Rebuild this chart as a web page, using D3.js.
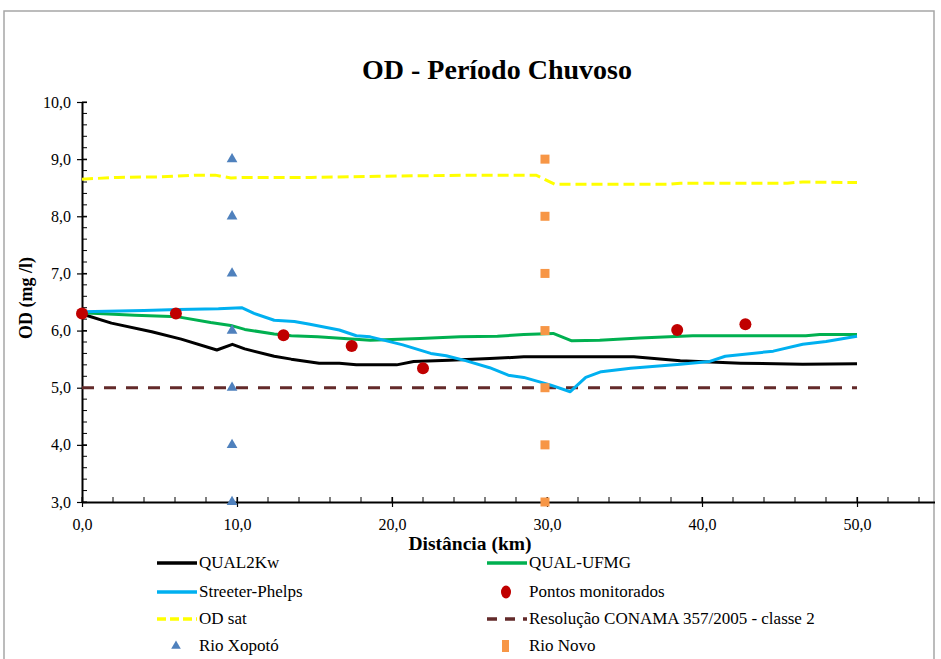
<!DOCTYPE html>
<html>
<head>
<meta charset="utf-8">
<script src="https://cdn.jsdelivr.net/npm/d3@7"></script>
<style>
html,body{margin:0;padding:0;background:#fff;}
svg{display:block;}
</style>
</head>
<body>
<svg id="chart" width="941" height="659" font-family="Liberation Serif"></svg>
<script>
// ---------- data ----------
const titleText = "OD - Período Chuvoso";
const xLabel = "Distância (km)";
const yLabel = "OD (mg /l)";
const xTicks = [0, 10, 20, 30, 40, 50];
const yTicks = [3, 4, 5, 6, 7, 8, 9, 10];

const qual2kwX = [0, 1.9, 4.5, 6.4, 8.7, 9.7, 10.5, 12.4, 13.5, 15.3, 16.6, 17.7, 20.3, 21.4, 23.7, 26.3, 28.5, 30.2, 35.6, 38.6, 42.5, 46.5, 50];
const qual2kwY = [6.29, 6.13, 5.98, 5.85, 5.66, 5.76, 5.68, 5.55, 5.50, 5.43, 5.43, 5.40, 5.40, 5.46, 5.48, 5.51, 5.54, 5.54, 5.54, 5.47, 5.43, 5.41, 5.42];

const ufmgX = [0, 3.4, 6.2, 8.3, 9.6, 10.5, 12.4, 13.5, 15.2, 16.9, 18.6, 21.8, 24.4, 26.8, 28.5, 30.4, 31.6, 33.4, 36.0, 39.4, 46.7, 47.6, 50];
const ufmgY = [6.31, 6.27, 6.24, 6.14, 6.09, 6.02, 5.94, 5.91, 5.89, 5.86, 5.83, 5.86, 5.89, 5.90, 5.93, 5.95, 5.82, 5.83, 5.87, 5.91, 5.91, 5.93, 5.93];

const spX = [0, 4.0, 6.2, 8.8, 10.3, 11.1, 12.4, 13.7, 14.7, 16.6, 17.7, 18.6, 20.7, 22.5, 23.5, 24.8, 26.3, 27.5, 28.5, 30.2, 31.5, 32.5, 33.5, 35.4, 38.6, 40.5, 41.5, 44.6, 46.5, 48.0, 50];
const spY = [6.33, 6.35, 6.37, 6.38, 6.40, 6.30, 6.18, 6.16, 6.11, 6.01, 5.91, 5.89, 5.75, 5.60, 5.56, 5.47, 5.35, 5.22, 5.18, 5.05, 4.93, 5.18, 5.28, 5.34, 5.41, 5.46, 5.55, 5.64, 5.76, 5.81, 5.90];

const odSatX = [0, 2.3, 5.1, 7.3, 8.6, 9.6, 10.5, 14.8, 19.1, 25.3, 29.3, 30.5, 37.9, 38.6, 45.5, 46.5, 50];
const odSatY = [8.65, 8.68, 8.69, 8.72, 8.72, 8.67, 8.68, 8.68, 8.70, 8.72, 8.72, 8.56, 8.56, 8.58, 8.58, 8.60, 8.59];

const conamaX = [0, 50];
const conamaY = [5.0, 5.0];

const pontosX = [0, 6.06, 13.0, 17.4, 22.0, 38.4, 42.8];
const pontosY = [6.30, 6.30, 5.92, 5.73, 5.34, 6.01, 6.11];

const xopotoX = [9.68, 9.68, 9.68, 9.68, 9.68, 9.68, 9.68];
const xopotoY = [3, 4, 5, 6, 7, 8, 9];

const novoX = [29.87, 29.87, 29.87, 29.87, 29.87, 29.87, 29.87];
const novoY = [3, 4, 5, 6, 7, 8, 9];

const legendNames = ["QUAL2Kw", "QUAL-UFMG", "Streeter-Phelps", "Pontos monitorados", "OD sat", "Resolução CONAMA 357/2005 - classe 2", "Rio Xopotó", "Rio Novo"];

// ---------- drawing ----------
const FONT = "Liberation Serif";
const svg = d3.select("#chart");
const fmt = v => v.toFixed(1).replace(".", ",");

// outer frame
svg.append("rect").attr("x", 4).attr("y", 11).attr("width", 930).attr("height", 700)
  .attr("fill", "none").attr("stroke", "#a6a6a6").attr("stroke-width", 1.5);

const x = d3.scaleLinear().domain([0, 55]).range([82, 934.5]);
const y = d3.scaleLinear().domain([3, 10]).range([502, 102]);

// title
svg.append("text").attr("x", 497).attr("y", 79).attr("text-anchor", "middle")
  .attr("font-family", FONT).attr("font-size", 28).attr("font-weight", "bold").text(titleText);

// minor ticks
const gMinor = svg.append("g").attr("stroke", "#000").attr("stroke-width", 1);
d3.range(3, 10.001, 0.2).forEach(v => {
  gMinor.append("line").attr("x1", 82).attr("x2", 87).attr("y1", y(v)).attr("y2", y(v));
});
d3.range(0, 55.001, 2).forEach(v => {
  gMinor.append("line").attr("x1", x(v)).attr("x2", x(v)).attr("y1", 502).attr("y2", 497);
});

// axes
const yAxis = d3.axisLeft(y).tickValues(yTicks).tickFormat(fmt).tickSizeInner(5).tickSizeOuter(0).tickPadding(8);
const gy = svg.append("g").attr("transform", "translate(82,0)").call(yAxis);
gy.attr("font-family", FONT).attr("font-size", 16);
gy.select(".domain").attr("stroke", "#000").attr("stroke-width", 2);
gy.selectAll(".tick line").attr("x1", 5).attr("x2", -5).attr("stroke", "#000").attr("stroke-width", 1.2);
gy.selectAll(".tick text").attr("font-family", FONT).attr("font-size", 16).attr("fill", "#000").attr("x", -11);

const xAxis = d3.axisBottom(x).tickValues(xTicks).tickFormat(fmt).tickSizeInner(5).tickSizeOuter(0).tickPadding(12);
const gx = svg.append("g").attr("transform", "translate(0,502)").call(xAxis);
gx.attr("font-family", FONT).attr("font-size", 16);
gx.select(".domain").attr("stroke", "#000").attr("stroke-width", 2);
gx.selectAll(".tick line").attr("y1", -5).attr("y2", 5).attr("stroke", "#000").attr("stroke-width", 1.2);
gx.selectAll(".tick text").attr("font-family", FONT).attr("font-size", 16).attr("fill", "#000");

// axis labels
svg.append("text").attr("x", 470).attr("y", 550).attr("text-anchor", "middle").attr("font-family", FONT)
  .attr("font-size", 19.5).attr("font-weight", "bold").text(xLabel);
svg.append("text").attr("transform", "translate(32,298) rotate(-90)").attr("text-anchor", "middle").attr("font-family", FONT)
  .attr("font-size", 18).attr("font-weight", "bold").text(yLabel);

// lines
const zip = (xs, ys) => xs.map((v, i) => [v, ys[i]]);
const line = d3.line().x(d => x(d[0])).y(d => y(d[1]));

svg.append("path").datum(zip(conamaX, conamaY)).attr("d", line)
  .attr("fill", "none").attr("stroke", "#632a2a").attr("stroke-width", 3).attr("stroke-dasharray", "12,10");
svg.append("path").datum(zip(odSatX, odSatY)).attr("d", line)
  .attr("fill", "none").attr("stroke", "#ffff00").attr("stroke-width", 3).attr("stroke-dasharray", "11,5");
svg.append("path").datum(zip(qual2kwX, qual2kwY)).attr("d", line)
  .attr("fill", "none").attr("stroke", "#000").attr("stroke-width", 3).attr("stroke-linejoin", "round");
svg.append("path").datum(zip(ufmgX, ufmgY)).attr("d", line)
  .attr("fill", "none").attr("stroke", "#00b050").attr("stroke-width", 3).attr("stroke-linejoin", "round");
svg.append("path").datum(zip(spX, spY)).attr("d", line)
  .attr("fill", "none").attr("stroke", "#00b0f0").attr("stroke-width", 3).attr("stroke-linejoin", "round");

// markers
const tri = d3.symbol().type(d3.symbolTriangle).size(50);
svg.append("g").selectAll("path").data(zip(xopotoX, xopotoY)).join("path")
  .attr("d", tri).attr("transform", d => `translate(${x(d[0])},${y(d[1])})`).attr("fill", "#4f81bd");
svg.append("g").selectAll("rect").data(zip(novoX, novoY)).join("rect")
  .attr("x", d => x(d[0]) - 4.5).attr("y", d => y(d[1]) - 4.5).attr("width", 9).attr("height", 9).attr("fill", "#f79646");
svg.append("g").selectAll("circle").data(zip(pontosX, pontosY)).join("circle")
  .attr("cx", d => x(d[0])).attr("cy", d => y(d[1])).attr("r", 6).attr("fill", "#c00000");

// legend
const legItems = [
  {name: legendNames[0], type: "line", color: "#000"},
  {name: legendNames[1], type: "line", color: "#00b050"},
  {name: legendNames[2], type: "line", color: "#00b0f0"},
  {name: legendNames[3], type: "circle", color: "#c00000"},
  {name: legendNames[4], type: "line", color: "#ffff00", dash: "9,4"},
  {name: legendNames[5], type: "line", color: "#632a2a", dash: "10,8"},
  {name: legendNames[6], type: "tri", color: "#4f81bd"},
  {name: legendNames[7], type: "square", color: "#f79646"}
];
const colX = [157, 487];
const rowY = [563, 592, 619, 646];
legItems.forEach((it, i) => {
  const cx = colX[i % 2], cy = rowY[Math.floor(i / 2)];
  const g = svg.append("g");
  if (it.type === "line") {
    g.append("line").attr("x1", cx).attr("x2", cx + 40).attr("y1", cy).attr("y2", cy)
      .attr("stroke", it.color).attr("stroke-width", 3.5).attr("stroke-dasharray", it.dash || null);
  } else if (it.type === "circle") {
    g.append("ellipse").attr("cx", cx + 19).attr("cy", cy).attr("rx", 5).attr("ry", 6.5).attr("fill", it.color);
  } else if (it.type === "tri") {
    g.append("path").attr("d", d3.symbol().type(d3.symbolTriangle).size(40)).attr("transform", `translate(${cx + 19},${cy})`).attr("fill", it.color);
  } else {
    g.append("rect").attr("x", cx + 15).attr("y", cy - 6).attr("width", 7).attr("height", 12).attr("fill", it.color);
  }
  g.append("text").attr("x", cx + 42).attr("y", cy + 5).attr("font-family", FONT).attr("font-size", 17).attr("fill", "#000").text(it.name);
});
</script>
</body>
</html>
